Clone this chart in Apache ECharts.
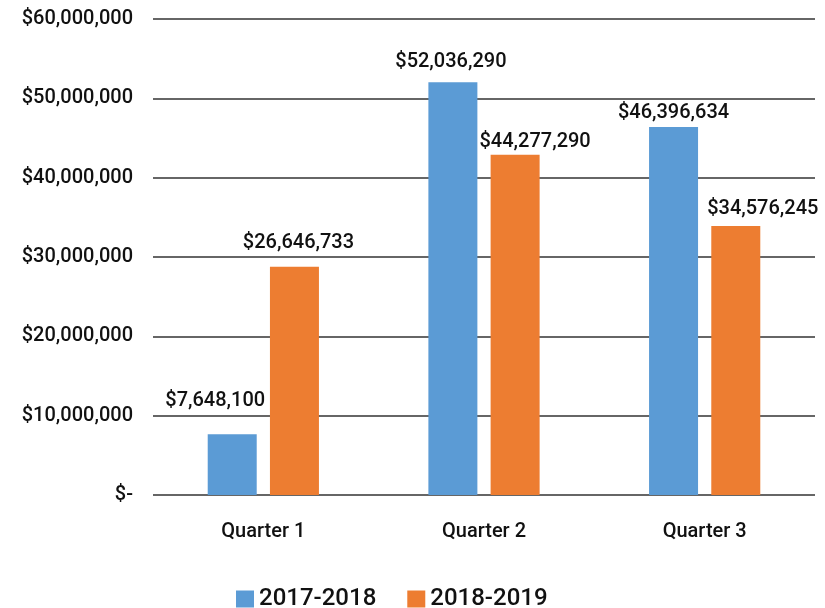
<!DOCTYPE html>
<html>
<head>
<meta charset="utf-8">
<script src="https://cdn.jsdelivr.net/npm/echarts@6/dist/echarts.min.js"></script>
<style>
  html, body { margin: 0; padding: 0; background: #fff; }
  #chart { width: 825px; height: 608px; }
</style>
</head>
<body>
<div id="chart"></div>
<script>
// categories + series
var quarters = ['Quarter 1', 'Quarter 2', 'Quarter 3'];
var seriesNames = ['2017-2018', '2018-2019'];
// bar heights as drawn in the picture
var values1718 = [7648100, 52036290, 46396634];
var values1819 = [28780000, 42900000, 33900000];
// label texts printed on the picture
var labels1718 = ['$7,648,100', '$52,036,290', '$46,396,634'];
var labels1819 = ['$26,646,733', '$44,277,290', '$34,576,245'];
var yTicks = ['$-', '$10,000,000', '$20,000,000', '$30,000,000', '$40,000,000', '$50,000,000', '$60,000,000'];

// label nudges (px) so they sit where the original has them
var nudge1718 = [[-17, -23], [-2, -10], [0, -4]];
var nudge1819 = [[4, -14], [20, -3], [27, -7]];

var FONT = 'Roboto';
var W = 500;

function buildData(vals, texts, nudges) {
  var out = [];
  for (var i = 0; i < vals.length; i++) {
    out.push({
      value: vals[i],
      label: { formatter: texts[i], offset: nudges[i] }
    });
  }
  return out;
}

var chart = echarts.init(document.getElementById('chart'));
var option = {
  animation: false,
  textStyle: { fontFamily: FONT },
  grid: { left: 153, right: 10, top: 19, bottom: 113, containLabel: false },
  legend: {
    left: 231,
    top: 582,
    itemWidth: 18,
    itemHeight: 17,
    itemGap: 31,
    icon: 'rect',
    textStyle: { fontSize: 24, fontWeight: W, color: '#111', fontFamily: FONT }
  },
  xAxis: {
    type: 'category',
    data: quarters,
    axisLine: { show: false },
    axisTick: { show: false },
    axisLabel: { margin: 27, fontSize: 20, fontWeight: W, color: '#111', fontFamily: FONT }
  },
  yAxis: {
    type: 'value',
    min: 0,
    max: 60000000,
    interval: 10000000,
    axisLine: { show: false },
    axisTick: { show: false },
    axisLabel: {
      margin: 20,
      fontSize: 20,
      fontWeight: W,
      color: '#111',
      fontFamily: FONT,
      formatter: function (v) { return yTicks[Math.round(v / 10000000)]; }
    },
    splitLine: { lineStyle: { color: '#333', width: 1.5 } }
  },
  series: [
    {
      name: seriesNames[0],
      type: 'bar',
      barWidth: 49,
      barGap: '27%',
      itemStyle: { color: '#5B9BD5' },
      label: { show: true, position: 'top', distance: 0, fontSize: 20, fontWeight: W, color: '#111', fontFamily: FONT },
      data: buildData(values1718, labels1718, nudge1718)
    },
    {
      name: seriesNames[1],
      type: 'bar',
      barWidth: 49,
      barGap: '27%',
      itemStyle: { color: '#ED7D31' },
      label: { show: true, position: 'top', distance: 0, fontSize: 20, fontWeight: W, color: '#111', fontFamily: FONT },
      data: buildData(values1819, labels1819, nudge1819)
    }
  ]
};
chart.setOption(option);
</script>
</body>
</html>
